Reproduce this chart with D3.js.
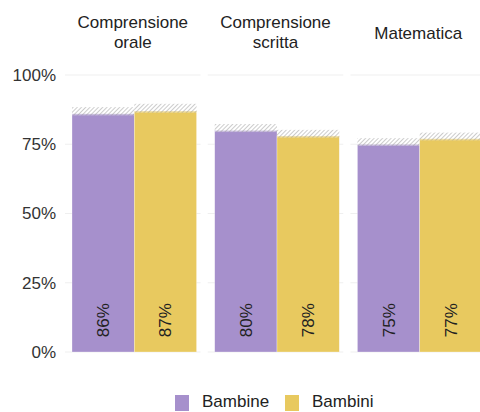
<!DOCTYPE html>
<html><head><meta charset="utf-8">
<script src="https://cdn.jsdelivr.net/npm/d3@7"></script>
<style>
html,body{margin:0;padding:0;background:#fff;overflow:hidden;}
svg{display:block;font-family:"Liberation Sans",Arial,Helvetica,sans-serif;}
</style></head><body>
<svg id="chart" width="480" height="412"></svg>
<script>
const subjects = [["Comprensione","orale"],["Comprensione","scritta"],["Matematica"]];
const series = ["Bambine","Bambini"];
const colors = ["#a690cc","#e8c95f"];
const valuesBambine = [86,80,75];
const valuesBambini = [87,78,77];
const ciLowBambine = [85.4,79.4,74.4];
const ciHighBambine = [88.4,82.3,77.2];
const ciLowBambini = [86.4,77.4,76.4];
const ciHighBambini = [89.6,80.2,79.2];
const yTicks = [0,25,50,75,100];

const svg = d3.select("#chart");
const defs = svg.append("defs");
const pat = defs.append("pattern").attr("id","hatch").attr("patternUnits","userSpaceOnUse")
  .attr("width",3).attr("height",3).attr("patternTransform","rotate(45)");
pat.append("rect").attr("width",3).attr("height",3).attr("fill","rgba(255,255,255,0.4)");
pat.append("line").attr("x1",0).attr("y1",0).attr("x2",0).attr("y2",3)
  .attr("stroke","#999").attr("stroke-width",1);

const y = d3.scaleLinear().domain([0,100]).range([352,75]);
const panelX = d3.scaleBand().domain(d3.range(subjects.length)).range([65,486]).paddingInner(0.05).paddingOuter(0);
const panelW = panelX.bandwidth();

const yAxis = d3.axisLeft(y).tickValues(yTicks).tickFormat(d=>d+"%").tickSize(0).tickPadding(0);
const ga = svg.append("g").attr("transform","translate(56,0)").call(yAxis);
ga.select(".domain").remove();
ga.selectAll("text").attr("font-size",17).attr("fill","#333").attr("font-family","Liberation Sans,Arial,sans-serif");

subjects.forEach((s,i)=>{
  const g = svg.append("g").attr("transform",`translate(${panelX(i)},0)`);
  g.selectAll("line.grid").data(yTicks).join("line").attr("class","grid")
    .attr("x1",0).attr("x2",panelW).attr("y1",d=>y(d)).attr("y2",d=>y(d))
    .attr("stroke","#efefef").attr("stroke-width",1);
  const t = g.append("text").attr("x",panelW/2).attr("text-anchor","middle")
    .attr("font-size",17).attr("fill","#222");
  const startY = s.length===1 ? 39 : 28;
  s.forEach((line,k)=>t.append("tspan").attr("x",panelW/2).attr("y",startY+k*20).text(line));
  const x = d3.scaleBand().domain(series).range([7,panelW-4]).padding(0);
  const rows = [
    {name:series[0], v:valuesBambine[i], lo:ciLowBambine[i], hi:ciHighBambine[i], c:colors[0]},
    {name:series[1], v:valuesBambini[i], lo:ciLowBambini[i], hi:ciHighBambini[i], c:colors[1]}
  ];
  rows.forEach(r=>{
    g.append("rect").attr("x",x(r.name)).attr("width",x.bandwidth())
      .attr("y",y(r.v)).attr("height",y(0)-y(r.v)).attr("fill",r.c)
      .attr("stroke","rgba(255,255,255,0.5)").attr("stroke-width",0.6);
    g.append("rect").attr("x",x(r.name)).attr("width",x.bandwidth())
      .attr("y",y(r.hi)).attr("height",y(r.lo)-y(r.hi)).attr("fill","url(#hatch)");
    const cx = x(r.name)+x.bandwidth()/2;
    g.append("text").attr("transform",`translate(${cx+6},${y(11.5)}) rotate(-90)`)
      .attr("text-anchor","middle").attr("font-size",17).attr("fill","#222")
      .text(r.v+"%");
  });
});

const leg = svg.append("g");
const legX = [175,285];
series.forEach((s,i)=>{
  leg.append("rect").attr("x",legX[i]).attr("y",395).attr("width",14).attr("height",16).attr("fill",colors[i]);
  leg.append("text").attr("x",legX[i]+27).attr("y",407).attr("font-size",17).attr("fill","#222").text(s);
});
</script>
</body></html>
